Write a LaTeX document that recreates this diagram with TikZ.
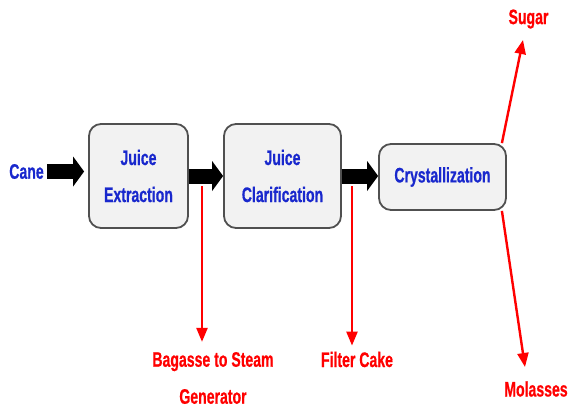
\documentclass[tikz,border=0pt]{standalone}
\usepackage{fontspec}
\setmainfont[FakeStretch=0.67,FakeBold=0.6]{Liberation Sans}
\usetikzlibrary{arrows.meta,calc}
\definecolor{txtblue}{RGB}{25,40,205}
\definecolor{boxfill}{RGB}{242,242,242}
\definecolor{boxline}{RGB}{80,80,80}
\begin{document}
\begin{tikzpicture}[x=1pt,y=-1pt,
  lblfont/.style={font=\bfseries\fontsize{21}{37}\selectfont},
  procbox/.style={lblfont, draw=boxline, line width=1.8pt, fill=boxfill,
    rounded corners=12pt, align=center, text=txtblue, inner sep=0pt},
  bluelbl/.style={lblfont, text=txtblue, inner sep=0pt},
  redlbl/.style={lblfont, text=red, align=center, inner sep=0pt},
  blockarrow/.style={draw=black, line width=15pt,
    -{Triangle[length=11pt,width=30pt,line width=0pt]}},
  redarrow/.style={draw=red, line width=2.4pt,
    -{Triangle[length=14pt,width=11pt]}}]
\useasboundingbox (0,0) rectangle (568,410);

% process boxes
\node[procbox, minimum width=99pt, minimum height=104pt] (je) at (138.5,176) {Juice\\Extraction};
\node[procbox, minimum width=117pt, minimum height=104pt] (jc) at (282.5,176) {Juice\\Clarification};
\node[procbox, minimum width=127pt, minimum height=66pt] (cr) at (442.5,177) {Crystallization};

% labels
\node[bluelbl] (cane) at (26.5,171.5) {Cane};
\node[redlbl] (bag) at (213,378) {Bagasse to Steam\\Generator};
\node[redlbl] (fc) at (357,359.5) {Filter Cake};
\node[redlbl] (sugar) at (528.5,19) {Sugar};
\node[redlbl] (mol) at (536,389) {Molasses};

% block arrows
\draw[blockarrow, shorten <=3.5pt, shorten >=4pt] (cane.east) -- (cane.east -| je.west);
\draw[blockarrow] (je.east) -- (jc.west);
\draw[blockarrow] (jc.east) -- (jc.east -| cr.west);

% red side streams
\coordinate (b1) at (202,186);
\coordinate (f1) at (352,186);
\draw[redarrow, shorten >=10pt] (b1) -- (b1 |- bag.north);
\draw[redarrow, shorten >=6pt] (f1) -- (f1 |- fc.north);
\coordinate (s1) at ([xshift=-5pt]cr.north east);
\coordinate (m1) at ([xshift=-5pt]cr.south east);
\coordinate (stip) at (523,40);
\coordinate (mtip) at (525,367);
\draw[redarrow] (s1) -- (stip);
\draw[redarrow] (m1) -- (mtip);
\end{tikzpicture}
\end{document}
